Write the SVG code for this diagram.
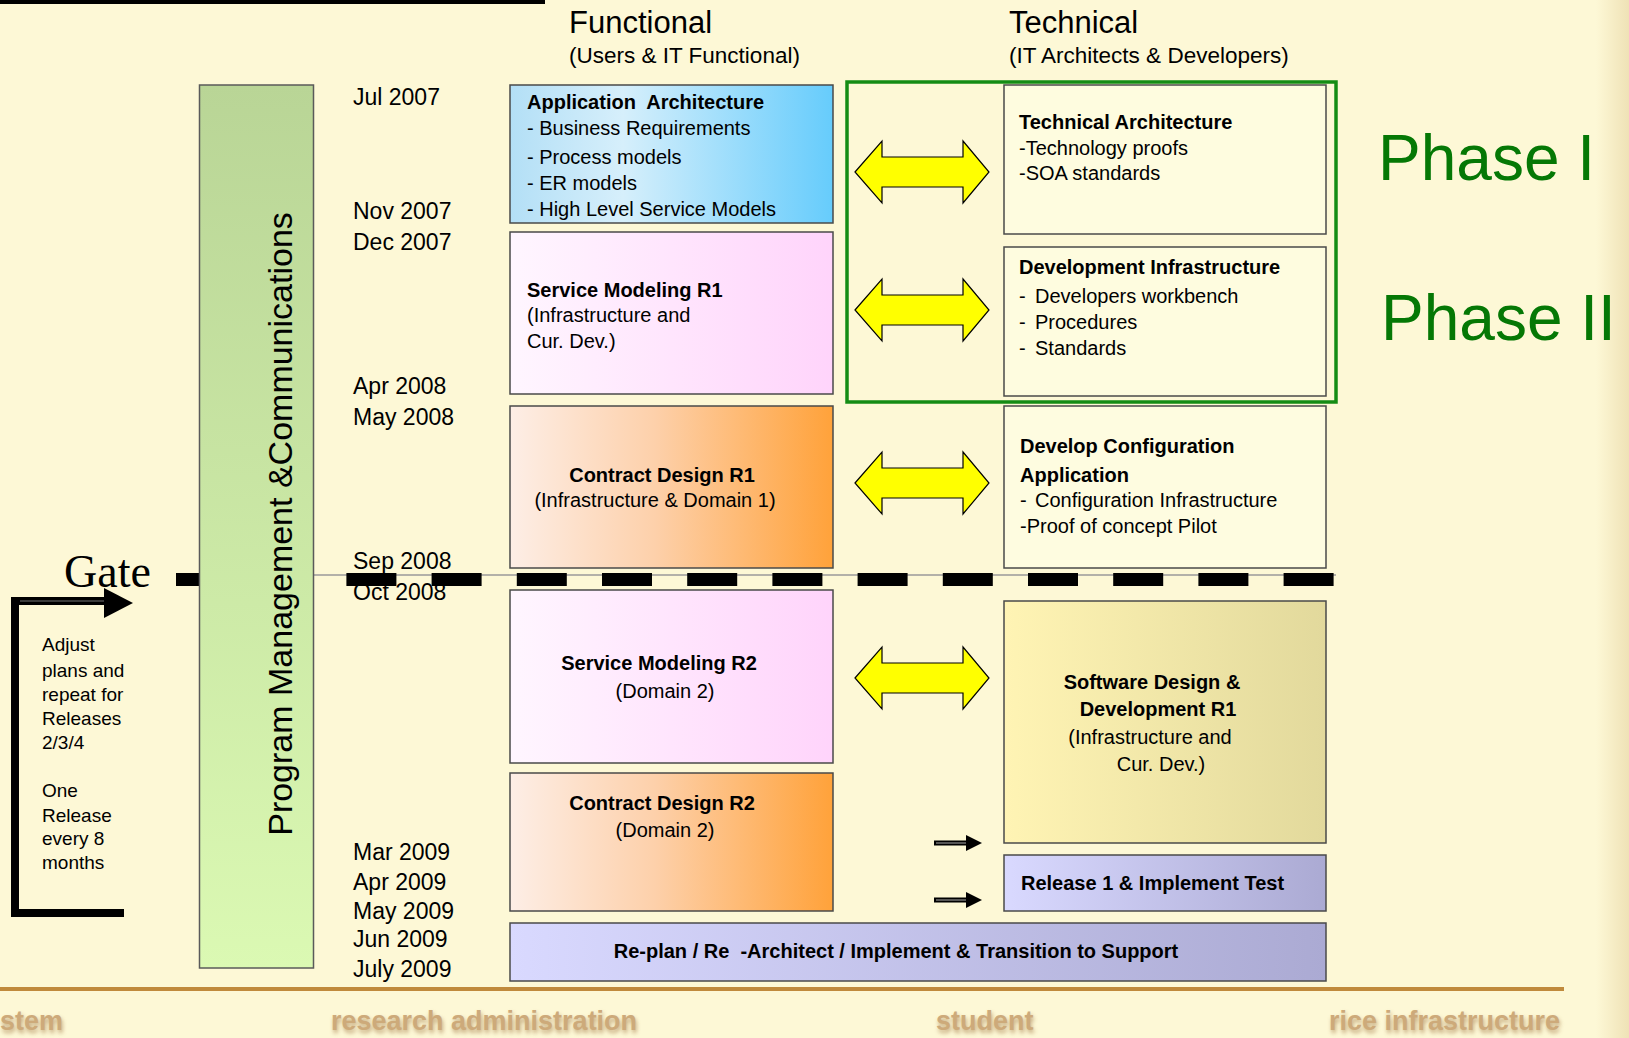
<svg xmlns="http://www.w3.org/2000/svg" width="1629" height="1038" viewBox="0 0 1629 1038">
<defs>
<style>
.t{font-family:"Liberation Sans",Arial,sans-serif;fill:#000}
.d{font-size:23px}
.b{font-size:20px;font-weight:bold}
.r{font-size:20px}
.box{stroke:#4a4a4a;stroke-width:1.5}
.m{text-anchor:middle}
.ft{font-family:"Liberation Sans",Arial,sans-serif;font-size:27px;font-weight:bold}
.dbl{fill:#ffff00;stroke:#000;stroke-width:1.2}
</style>
<linearGradient id="gBlue" x1="0" y1="0" x2="1" y2="0"><stop offset="0" stop-color="#b3dff6"/><stop offset="0.35" stop-color="#d6effb"/><stop offset="1" stop-color="#66ccfc"/></linearGradient>
<linearGradient id="gPink" x1="0" y1="0" x2="1" y2="0"><stop offset="0" stop-color="#fff6ff"/><stop offset="1" stop-color="#ffd4fb"/></linearGradient>
<linearGradient id="gOrange" x1="0" y1="0" x2="1" y2="0"><stop offset="0" stop-color="#fdeee6"/><stop offset="0.45" stop-color="#fdd0aa"/><stop offset="1" stop-color="#ffa23a"/></linearGradient>
<linearGradient id="gKhaki" x1="0" y1="0" x2="1" y2="0"><stop offset="0" stop-color="#fff4b4"/><stop offset="1" stop-color="#e2d99c"/></linearGradient>
<linearGradient id="gLav" x1="0" y1="0" x2="1" y2="0"><stop offset="0" stop-color="#d9d9ff"/><stop offset="1" stop-color="#abaad3"/></linearGradient>
<linearGradient id="gGreen" x1="0" y1="0" x2="0" y2="1"><stop offset="0" stop-color="#b9d596"/><stop offset="1" stop-color="#dbf9b3"/></linearGradient>
<linearGradient id="gEdge" x1="0" y1="0" x2="1" y2="0"><stop offset="0" stop-color="#fdf8d6"/><stop offset="1" stop-color="#efe2b6"/></linearGradient>
<filter id="blur" x="-5%" y="-20%" width="110%" height="140%"><feGaussianBlur stdDeviation="2"/></filter>
<path id="dblArrow" d="M855,0 L882,-31 L882,-15 L963,-15 L963,-31 L989,0 L963,31 L963,15 L882,15 L882,31 Z"/>
</defs>

<rect x="0" y="0" width="1629" height="1038" fill="#fdf8d6"/>
<rect x="1596" y="0" width="33" height="1038" fill="url(#gEdge)"/>
<rect x="0" y="0" width="545" height="4" fill="#000"/>

<g id="headers">
<text class="t" x="569" y="33" font-size="31">Functional</text>
<text class="t" x="569" y="63" font-size="22.5">(Users &amp; IT Functional)</text>
<text class="t" x="1009" y="33" font-size="31">Technical</text>
<text class="t" x="1009" y="63" font-size="22.5">(IT Architects &amp; Developers)</text>
</g>

<g id="dates" class="t d">
<text class="t d" x="353" y="105">Jul 2007</text>
<text class="t d" x="353" y="219">Nov 2007</text>
<text class="t d" x="353" y="250">Dec 2007</text>
<text class="t d" x="353" y="394">Apr 2008</text>
<text class="t d" x="353" y="425">May 2008</text>
<text class="t d" x="353" y="569">Sep 2008</text>
<text class="t d" x="353" y="600">Oct 2008</text>
<text class="t d" x="353" y="860">Mar 2009</text>
<text class="t d" x="353" y="890">Apr 2009</text>
<text class="t d" x="353" y="919">May 2009</text>
<text class="t d" x="353" y="947">Jun 2009</text>
<text class="t d" x="353" y="977">July 2009</text>
</g>

<g id="gate-line">
<line x1="314" y1="575" x2="1336" y2="575" stroke="#9a9a9a" stroke-width="1.5"/>
<line x1="176" y1="579.5" x2="1334" y2="579.5" stroke="#000" stroke-width="13" stroke-dasharray="50 35.2"/>
</g>

<g id="program-management">
<rect x="199.5" y="85" width="114" height="883" fill="url(#gGreen)" stroke="#5a5a5a" stroke-width="1.5"/>
<text class="t" transform="translate(292,524) rotate(-90)" text-anchor="middle" font-size="34">Program Management &amp;Communications</text>
</g>

<g id="gate">
<text x="64" y="587" font-family="'Liberation Serif','Times New Roman',serif" font-size="46" fill="#000">Gate</text>
</g>

<g id="release-note" class="t">
<text class="t" x="42" y="651" font-size="19">Adjust</text>
<text class="t" x="42" y="677" font-size="19">plans and</text>
<text class="t" x="42" y="701" font-size="19">repeat for</text>
<text class="t" x="42" y="725" font-size="19">Releases</text>
<text class="t" x="42" y="749" font-size="19">2/3/4</text>
<text class="t" x="42" y="797" font-size="19">One</text>
<text class="t" x="42" y="822" font-size="19">Release</text>
<text class="t" x="42" y="845" font-size="19">every 8</text>
<text class="t" x="42" y="869" font-size="19">months</text>
</g>

<g id="phase-frame">
<rect x="847" y="82" width="489" height="320" fill="none" stroke="#148c14" stroke-width="3.5"/>
<text x="1378" y="180" font-family="'Liberation Sans',Arial,sans-serif" font-size="64" fill="#057805">Phase I</text>
<text x="1381" y="340" font-family="'Liberation Sans',Arial,sans-serif" font-size="64" fill="#057805">Phase II</text>
</g>

<g id="app-architecture">
<rect class="box" x="510" y="85" width="323" height="138" fill="url(#gBlue)"/>
<text class="t b" x="527" y="109" xml:space="preserve">Application  Architecture</text>
<text class="t r" x="527" y="135">- Business Requirements</text>
<text class="t r" x="527" y="164">- Process models</text>
<text class="t r" x="527" y="190">- ER models</text>
<text class="t r" x="527" y="216">- High Level Service Models</text>
</g>

<g id="service-modeling-r1">
<rect class="box" x="510" y="232" width="323" height="162" fill="url(#gPink)"/>
<text class="t b" x="527" y="297">Service Modeling R1</text>
<text class="t r" x="527" y="322">(Infrastructure and</text>
<text class="t r" x="527" y="348">Cur. Dev.)</text>
</g>

<g id="contract-design-r1">
<rect class="box" x="510" y="406" width="323" height="162" fill="url(#gOrange)"/>
<text class="t b m" x="662" y="482">Contract Design R1</text>
<text class="t r m" x="655" y="507">(Infrastructure &amp; Domain 1)</text>
</g>

<g id="service-modeling-r2">
<rect class="box" x="510" y="590" width="323" height="173" fill="url(#gPink)"/>
<text class="t b m" x="659" y="670">Service Modeling R2</text>
<text class="t r m" x="665" y="698">(Domain 2)</text>
</g>

<g id="contract-design-r2">
<rect class="box" x="510" y="773" width="323" height="138" fill="url(#gOrange)"/>
<text class="t b m" x="662" y="810">Contract Design R2</text>
<text class="t r m" x="665" y="837">(Domain 2)</text>
</g>

<g id="technical-architecture">
<rect class="box" x="1004" y="85" width="322" height="149" fill="#fefcdf"/>
<text class="t b" x="1019" y="129">Technical Architecture</text>
<text class="t r" x="1019" y="155">-Technology proofs</text>
<text class="t r" x="1019" y="180">-SOA standards</text>
</g>

<g id="development-infrastructure">
<rect class="box" x="1004" y="247" width="322" height="149" fill="#fefcdf"/>
<text class="t b" x="1019" y="274">Development Infrastructure</text>
<text class="t r" x="1019" y="303">-</text><text class="t r" x="1035" y="303">Developers workbench</text>
<text class="t r" x="1019" y="329">-</text><text class="t r" x="1035" y="329">Procedures</text>
<text class="t r" x="1019" y="355">-</text><text class="t r" x="1035" y="355">Standards</text>
</g>

<g id="develop-configuration">
<rect class="box" x="1004" y="406" width="322" height="162" fill="#fefce0"/>
<text class="t b" x="1020" y="453">Develop Configuration</text>
<text class="t b" x="1020" y="482">Application</text>
<text class="t r" x="1020" y="507">-</text><text class="t r" x="1035" y="507">Configuration Infrastructure</text>
<text class="t r" x="1020" y="533">-Proof of concept Pilot</text>
</g>

<g id="software-design-r1">
<rect class="box" x="1004" y="601" width="322" height="242" fill="url(#gKhaki)"/>
<text class="t b m" x="1152" y="689">Software Design &amp;</text>
<text class="t b m" x="1158" y="716">Development R1</text>
<text class="t r m" x="1150" y="744">(Infrastructure and</text>
<text class="t r m" x="1161" y="771">Cur. Dev.)</text>
</g>

<g id="release-1">
<rect class="box" x="1004" y="855" width="322" height="56" fill="url(#gLav)"/>
<text class="t b" x="1021" y="890">Release 1 &amp; Implement Test</text>
</g>

<g id="replan">
<rect class="box" x="510" y="923" width="816" height="58" fill="url(#gLav)"/>
<text class="t b m" x="896" y="958" xml:space="preserve">Re-plan / Re  -Architect / Implement &amp; Transition to Support</text>
</g>

<g id="connectors">
<use href="#dblArrow" class="dbl" transform="translate(0,172)"/>
<use href="#dblArrow" class="dbl" transform="translate(0,310)"/>
<use href="#dblArrow" class="dbl" transform="translate(0,483)"/>
<use href="#dblArrow" class="dbl" transform="translate(0,678)"/>
<path d="M124,913 H15 V601 H108" fill="none" stroke="#000" stroke-width="8"/>
<path d="M20,601 H108" fill="none" stroke="#777" stroke-width="1"/>
<polygon points="104,588 133,603 104,618" fill="#000"/>
<line x1="934" y1="843" x2="968" y2="843" stroke="#000" stroke-width="5"/>
<line x1="936" y1="843" x2="966" y2="843" stroke="#aaa" stroke-width="1"/>
<polygon points="966,835 982,843 966,851" fill="#000"/>
<line x1="934" y1="900" x2="968" y2="900" stroke="#000" stroke-width="5"/>
<line x1="936" y1="900" x2="966" y2="900" stroke="#aaa" stroke-width="1"/>
<polygon points="966,892 982,900 966,908" fill="#000"/>
</g>

<g id="footer">
<rect x="0" y="987" width="1564" height="4" fill="#c08a3c"/>
<g fill="#a88050" filter="url(#blur)" opacity="0.7">
<text class="ft" x="1" y="1033">stem</text>
<text class="ft" x="332" y="1033">research administration</text>
<text class="ft" x="937" y="1033">student</text>
<text class="ft" x="1330" y="1033">rice infrastructure</text>
</g>
<g fill="#cdaa7a">
<text class="ft" x="0" y="1030">stem</text>
<text class="ft" x="331" y="1030">research administration</text>
<text class="ft" x="936" y="1030">student</text>
<text class="ft" x="1329" y="1030">rice infrastructure</text>
</g>
</g>
</svg>
